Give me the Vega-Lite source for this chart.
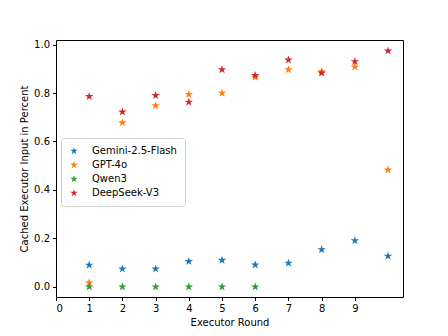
{
  "$schema": "https://vega.github.io/schema/vega-lite/v6.json",
  "width": 347,
  "height": 257,
  "autosize": {"type": "none"},
  "padding": {"left": 56, "top": 40, "right": 45, "bottom": 39},
  "background": "white",
  "config": {
    "font": "DejaVu Sans",
    "view": {"stroke": "black", "strokeWidth": 1},
    "axis": {"grid": false, "domain": false, "tickColor": "black", "tickSize": 3.5, "labelColor": "black", "labelFontSize": 10, "titleFontSize": 10, "titleFontWeight": "normal", "titleColor": "black", "labelFont": "DejaVu Sans", "titleFont": "DejaVu Sans"}
  },
  "data": {
    "values": [
      {"round": 1, "model": "Gemini-2.5-Flash", "value": 0.090},
      {"round": 2, "model": "Gemini-2.5-Flash", "value": 0.074},
      {"round": 3, "model": "Gemini-2.5-Flash", "value": 0.074},
      {"round": 4, "model": "Gemini-2.5-Flash", "value": 0.105},
      {"round": 5, "model": "Gemini-2.5-Flash", "value": 0.110},
      {"round": 6, "model": "Gemini-2.5-Flash", "value": 0.091},
      {"round": 7, "model": "Gemini-2.5-Flash", "value": 0.098},
      {"round": 8, "model": "Gemini-2.5-Flash", "value": 0.154},
      {"round": 9, "model": "Gemini-2.5-Flash", "value": 0.191},
      {"round": 10, "model": "Gemini-2.5-Flash", "value": 0.127},
      {"round": 1, "model": "GPT-4o", "value": 0.017},
      {"round": 2, "model": "GPT-4o", "value": 0.678},
      {"round": 3, "model": "GPT-4o", "value": 0.748},
      {"round": 4, "model": "GPT-4o", "value": 0.795},
      {"round": 5, "model": "GPT-4o", "value": 0.800},
      {"round": 6, "model": "GPT-4o", "value": 0.866},
      {"round": 7, "model": "GPT-4o", "value": 0.897},
      {"round": 8, "model": "GPT-4o", "value": 0.888},
      {"round": 9, "model": "GPT-4o", "value": 0.908},
      {"round": 10, "model": "GPT-4o", "value": 0.483},
      {"round": 1, "model": "Qwen3", "value": 0.0},
      {"round": 2, "model": "Qwen3", "value": 0.0},
      {"round": 3, "model": "Qwen3", "value": 0.0},
      {"round": 4, "model": "Qwen3", "value": 0.0},
      {"round": 5, "model": "Qwen3", "value": 0.0},
      {"round": 6, "model": "Qwen3", "value": 0.0},
      {"round": 1, "model": "DeepSeek-V3", "value": 0.786},
      {"round": 2, "model": "DeepSeek-V3", "value": 0.722},
      {"round": 3, "model": "DeepSeek-V3", "value": 0.790},
      {"round": 4, "model": "DeepSeek-V3", "value": 0.763},
      {"round": 5, "model": "DeepSeek-V3", "value": 0.897},
      {"round": 6, "model": "DeepSeek-V3", "value": 0.873},
      {"round": 7, "model": "DeepSeek-V3", "value": 0.937},
      {"round": 8, "model": "DeepSeek-V3", "value": 0.883},
      {"round": 9, "model": "DeepSeek-V3", "value": 0.930},
      {"round": 10, "model": "DeepSeek-V3", "value": 0.974}
    ]
  },
  "mark": {
    "type": "point",
    "filled": true,
    "opacity": 1,
    "size": 80,
    "shape": "M0,-1L0.225,-0.309L0.951,-0.309L0.363,0.118L0.588,0.809L0,0.382L-0.588,0.809L-0.363,0.118L-0.951,-0.309L-0.225,-0.309Z"
  },
  "encoding": {
    "x": {
      "field": "round",
      "type": "quantitative",
      "title": "Executor Round",
      "scale": {"domain": [0, 10.45], "nice": false, "zero": false},
      "axis": {"values": [0, 1, 2, 3, 4, 5, 6, 7, 8, 9], "format": "d", "labelPadding": 3, "titlePadding": 4}
    },
    "y": {
      "field": "value",
      "type": "quantitative",
      "title": "Cached Executor Input in Percent",
      "scale": {"domain": [-0.042, 1.019], "nice": false, "zero": false},
      "axis": {"values": [0, 0.2, 0.4, 0.6, 0.8, 1.0], "format": ".1f", "labelPadding": 3, "titlePadding": 4}
    },
    "color": {
      "field": "model",
      "type": "nominal",
      "scale": {
        "domain": ["Gemini-2.5-Flash", "GPT-4o", "Qwen3", "DeepSeek-V3"],
        "range": ["#1f77b4", "#ff7f0e", "#2ca02c", "#d62728"]
      },
      "legend": {
        "title": null,
        "orient": "none",
        "legendX": 5,
        "legendY": 98,
        "padding": 8,
        "strokeColor": "#d0d0d0",
        "fillColor": "white",
        "cornerRadius": 3,
        "labelFontSize": 10,
        "labelColor": "black",
        "labelFont": "DejaVu Sans",
        "labelOffset": 13,
        "rowPadding": 4,
        "symbolSize": 60,
        "symbolType": "M0,-1L0.225,-0.309L0.951,-0.309L0.363,0.118L0.588,0.809L0,0.382L-0.588,0.809L-0.363,0.118L-0.951,-0.309L-0.225,-0.309Z",
        "symbolStrokeWidth": 0,
        "symbolOpacity": 1
      }
    }
  }
}
